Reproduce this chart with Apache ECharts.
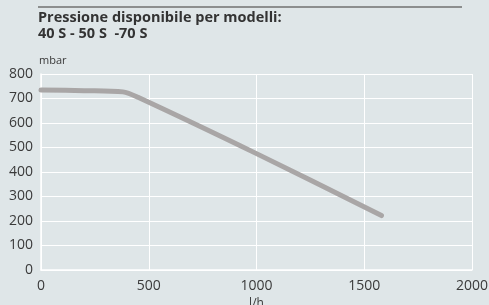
<!DOCTYPE html>
<html><head><meta charset="utf-8">
<script src="https://cdn.jsdelivr.net/npm/echarts@6/dist/echarts.min.js"></script>
<style>html,body{margin:0;padding:0;background:#dfe6e8;}#c{width:489px;height:305px;}</style>
</head><body><div id="c"></div>
<script>
var flow = [0, 200, 380, 450, 1000, 1580];
var pressure = [735, 732, 727, 705, 475, 222];
var xTicks = [0, 500, 1000, 1500, 2000];
var yTicks = [0, 100, 200, 300, 400, 500, 600, 700, 800];
var titleLines = ['Pressione disponibile per modelli:', '40 S - 50 S  -70 S'];

var chart = echarts.init(document.getElementById('c'));
chart.setOption({
  backgroundColor: '#dfe6e8',
  animation: false,
  graphic: [{
    type: 'line', shape: {x1: 38, y1: 7, x2: 462, y2: 7},
    style: {stroke: '#707070', lineWidth: 1.5}
  }],
  title: {
    text: titleLines.join('\n'), left: 33, top: 5,
    textStyle: {fontFamily: 'Open Sans', fontWeight: 'bold', fontSize: 14.5, color: '#333', lineHeight: 16}
  },
  grid: {left: 41, right: 17, top: 74, bottom: 35, outerBoundsMode: 'none'},
  xAxis: {
    type: 'value', min: 0, max: 2000, interval: 500,
    name: 'l/h', nameLocation: 'middle', nameGap: 27,
    nameTextStyle: {fontFamily: 'Open Sans', fontSize: 12, color: '#3a3a3a'},
    axisLine: {show: true, lineStyle: {color: '#ffffff', width: 1.5}},
    axisTick: {show: false},
    axisLabel: {fontFamily: 'Open Sans', fontSize: 14, color: '#3a3a3a', margin: 9,
      formatter: function(v){ return xTicks.indexOf(v) >= 0 ? String(v) : ''; }},
    splitLine: {show: true, lineStyle: {color: '#ffffff', width: 1}}
  },
  yAxis: {
    type: 'value', min: 0, max: 800, interval: 100,
    name: 'mbar', nameLocation: 'end', nameGap: 8,
    nameTextStyle: {fontFamily: 'Open Sans', fontSize: 11, color: '#3a3a3a', align: 'left', padding: [0,0,0,-2]},
    axisLine: {show: true, lineStyle: {color: '#ffffff', width: 1.5}},
    axisTick: {show: false},
    axisLabel: {fontFamily: 'Open Sans', fontSize: 14, color: '#3a3a3a', margin: 8,
      formatter: function(v){ return yTicks.indexOf(v) >= 0 ? String(v) : ''; }},
    splitLine: {show: true, lineStyle: {color: '#ffffff', width: 1}}
  },
  series: [{
    type: 'line', smooth: 0.3, symbol: 'none',
    data: flow.map(function(f, i){ return [f, pressure[i]]; }),
    lineStyle: {color: '#a9a6a6', width: 5, cap: 'round'}
  }]
});
</script></body></html>
